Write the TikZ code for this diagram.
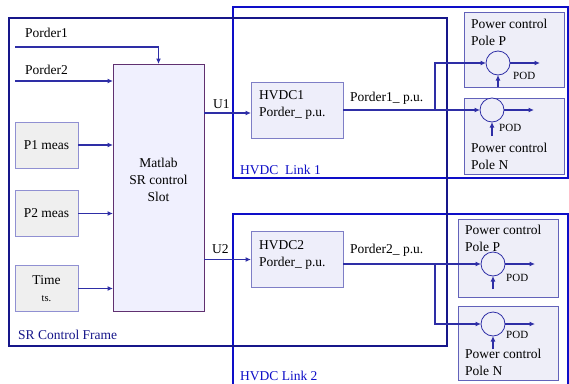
\documentclass[tikz,border=0pt]{standalone}
\usepackage{fontspec}
\setmainfont{Liberation Serif}
\usetikzlibrary{arrows.meta,positioning,calc}
\definecolor{frameink}{HTML}{16168A}
\definecolor{linkink}{HTML}{0E0EC8}
\definecolor{sigink}{HTML}{2E2EA6}
\definecolor{slotfill}{HTML}{F0F0FE}
\definecolor{slotedge}{HTML}{603070}
\definecolor{measfill}{HTML}{EFEFEF}
\definecolor{measedge}{HTML}{9090D2}
\definecolor{hvdcfill}{HTML}{EEEEFA}
\definecolor{hvdcedge}{HTML}{7E7EC6}
\definecolor{polefill}{HTML}{EEEEF8}
\definecolor{poleedge}{HTML}{6262BA}
\newcommand{\diagfont}{\fontsize{13.5}{17}\selectfont}
\newcommand{\podfont}{\fontsize{11}{13}\selectfont}
\tikzset{
  framebox/.style={draw=frameink, line width=2pt, anchor=north west, inner sep=0pt, outer sep=0pt},
  linkbox/.style={draw=linkink, line width=2pt, anchor=north west, inner sep=0pt, outer sep=0pt},
  slotbox/.style={draw=slotedge, fill=slotfill, line width=1pt, minimum width=91pt, minimum height=247pt, outer sep=0pt},
  measbox/.style={draw=measedge, fill=measfill, line width=1pt, minimum width=63pt, minimum height=46pt, align=center, font=\diagfont, outer sep=0pt},
  hvdcbox/.style={draw=hvdcedge, fill=hvdcfill, line width=1pt, minimum width=92pt, minimum height=56pt, outer sep=0pt},
  polebox/.style={draw=poleedge, fill=polefill, line width=1pt, minimum width=100pt, minimum height=76pt, anchor=north west, outer sep=0pt},
  sumnode/.style={circle, draw=sigink, fill=polefill, line width=0.8pt, minimum size=24pt, inner sep=0pt, outer sep=0pt},
  txtnode/.style={inner sep=0pt, anchor=west, align=left, font=\diagfont},
  podnode/.style={inner sep=0pt, anchor=west, font=\podfont},
  sig/.style={draw=sigink, line width=1.3pt},
  sigarrow/.style={sig, -{Latex[length=5.5pt, width=5pt]}}
}

\begin{document}
\begin{tikzpicture}[x=1pt, y=-1pt]
  \path[fill=white] (0,0) rectangle (569,383);
  \useasboundingbox (0,0) rectangle (569,383);

  % frames
  \node[linkbox, minimum width=335pt, minimum height=171pt] (link1) at (233,7) {};
  \node[linkbox, minimum width=335pt, minimum height=176pt] (link2) at (233,214) {};
  \node[framebox, minimum width=438pt, minimum height=328pt] (srframe) at (9,18) {};
  \node[txtnode, text=frameink] (srlabel) at (18,335) {SR Control Frame};
  \node[txtnode, text=linkink] (link1label) at (240,170) {HVDC\ \ Link 1};
  \node[txtnode, text=linkink] (link2label) at (240,376) {HVDC Link 2};

  % SR control slot and its inputs
  \node[slotbox] (slot) at (158.5,187.5) {};
  \node[font=\diagfont, align=center, inner sep=0pt] (slottext) at (158.5,180) {Matlab\\SR control\\Slot};
  \node[measbox] (p1meas) at (46.5,145) {P1 meas};
  \node[measbox] (p2meas) at (46.5,213.5) {P2 meas};
  \node[measbox] (timebox) at (46.5,288.5) {Time\\{\fontsize{10.5}{12}\selectfont ts.}};

  \coordinate (porder1in) at (15,47);
  \coordinate (porder2in) at (15,81);
  \node[txtnode] (porder1label) at (25,33) {Porder1};
  \node[txtnode] (porder2label) at (25,70) {Porder2};
  \draw[sigarrow] (porder1in) -| (slot.north);
  \draw[sigarrow] (porder2in) -- (porder2in -| slot.west);
  \foreach \m in {p1meas,p2meas,timebox}
    \draw[sigarrow] (\m.east) -- (\m.east -| slot.west);

  % HVDC links
  \node[hvdcbox] (hvdc1) at (297,110) {};
  \node[txtnode, anchor=north west] (hvdc1text) at (259,90.5) {HVDC1\\Porder\_ p.u.};
  \node[hvdcbox] (hvdc2) at (297,259.5) {};
  \node[txtnode, anchor=north west] (hvdc2text) at (259,240.5) {HVDC2\\Porder\_ p.u.};

  \draw[sigarrow] (slot.east |- 0,113) -- (hvdc1.west |- 0,113);
  \draw[sigarrow] (slot.east |- hvdc2.west) -- (hvdc2.west);
  \node[txtnode] (u1label) at (213,104) {U1};
  \node[txtnode] (u2label) at (212,249) {U2};
  \node[txtnode] (porder1pu) at (350,98) {Porder1\_ p.u.};
  \node[txtnode] (porder2pu) at (350,250) {Porder2\_ p.u.};

  % power control poles
  \node[polebox, minimum height=75pt] (poleP1) at (464,12) {};
  \node[polebox] (poleN1) at (464,98) {};
  \node[polebox, minimum height=78pt] (poleP2) at (458,219) {};
  \node[polebox, minimum height=74pt] (poleN2) at (458,306) {};
  \node[txtnode, anchor=north west] (poleP1text) at (471,19.4) {Power control\\Pole P};
  \node[txtnode, anchor=north west] (poleN1text) at (471,143.4) {Power control\\Pole N};
  \node[txtnode, anchor=north west] (poleP2text) at (465,225.4) {Power control\\Pole P};
  \node[txtnode, anchor=north west] (poleN2text) at (465,349.4) {Power control\\Pole N};

  \node[sumnode] (sumP1) at (498,63) {};
  \node[sumnode] (sumN1) at (492,110) {};
  \node[sumnode] (sumP2) at (493,264) {};
  \node[sumnode] (sumN2) at (493,324) {};

  \coordinate (split1) at (435,110);
  \coordinate (split2) at (435,264);
  \draw[sigarrow] (hvdc1.east) -- (split1) |- (sumP1.west);
  \draw[sigarrow] (split1) -- (sumN1.west);
  \draw[sigarrow] (hvdc2.east |- sumP2) -- (sumP2.west);
  \draw[sigarrow] (split2) |- (sumN2.west);

  \foreach \s in {P1,N1,P2,N2}
    \draw[sigarrow] (sum\s.east) -- ++(30,0) coordinate (out\s);

  \draw[sigarrow] (sumP1 |- poleP1.south) -- (sumP1.south);
  \foreach \s/\d in {N1/14,P2/13,N2/13}
    \draw[sigarrow] ($(sum\s.south)+(0,\d)$) coordinate (podin\s) -- (sum\s.south);

  \node[podnode] (podP1) at ($(sumP1.east)+(3,13)$) {POD};
  \node[podnode] (podN1) at ($(sumN1.east)+(-5,18)$) {POD};
  \node[podnode] (podP2) at ($(sumP2.east)+(1,14)$) {POD};
  \node[podnode] (podN2) at ($(sumN2.east)+(1,11)$) {POD};
\end{tikzpicture}
\end{document}
